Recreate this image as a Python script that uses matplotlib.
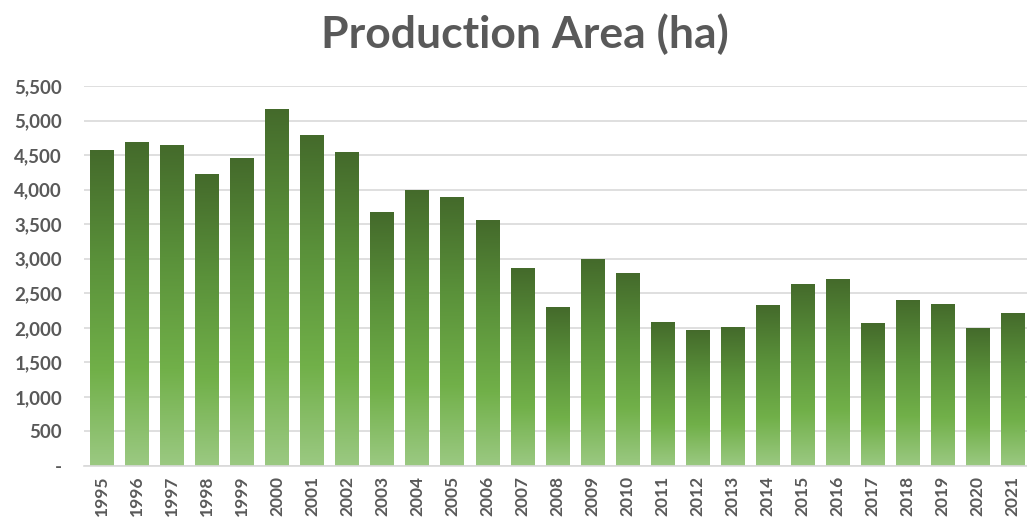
#!/usr/bin/env python3

import matplotlib
matplotlib.use("Agg")
import matplotlib.pyplot as plt
import numpy as np
from matplotlib.colors import LinearSegmentedColormap
from matplotlib.ticker import FuncFormatter

# ========== data ==========
years = [str(y) for y in range(1995, 2022)]
area_ha = [4570, 4685, 4650, 4225, 4455, 5170, 4795, 4540, 3670, 4000,
           3890, 3560, 2860, 2295, 2995, 2800, 2085, 1975, 2005, 2330,
           2640, 2700, 2065, 2405, 2345, 2000, 2215]
y_ticks = [0, 500, 1000, 1500, 2000, 2500, 3000, 3500, 4000, 4500, 5000, 5500]

TEXT_GREY = "#595959"
GRID_GREY = "#d9d9d9"

# bottom -> top of every bar
bar_cmap = LinearSegmentedColormap.from_list(
    "bar_green",
    [(0.0, "#9bc982"), (0.3, "#71b049"), (0.65, "#5a913a"), (1.0, "#446a2b")],
)

plt.rcParams['font.family'] = ['Lato', 'DejaVu Sans']

fig = plt.figure(figsize=(10.27, 5.21), dpi=100)
fig.set_facecolor('white')
ax = fig.add_axes([0.082, 0.1056, 0.921, 0.7294])
ax.set_facecolor('white')

x = np.arange(len(years))
bars = ax.bar(x, area_ha, width=0.66, color='none', edgecolor='none', zorder=2)

# vertical gradient inside each bar
grad = np.linspace(0, 1, 256).reshape(-1, 1)
for rect in bars:
    x0, w, h = rect.get_x(), rect.get_width(), rect.get_height()
    im = ax.imshow(grad, cmap=bar_cmap, origin='lower', aspect='auto',
                   extent=(x0, x0 + w, 0, h), zorder=2, interpolation='bilinear')
    im.set_clip_path(rect)

ax.set_xlim(-0.5, len(years) - 0.5)
ax.set_ylim(0, 5500)
ax.set_yticks(y_ticks)
ax.yaxis.set_major_formatter(FuncFormatter(lambda v, _: "-" if v == 0 else f"{int(v):,}"))
ax.set_xticks(x)
ax.set_xticklabels(years, rotation=90)

ax.grid(axis='y', color=GRID_GREY, linewidth=1.2, zorder=0)
ax.set_axisbelow(True)
for side in ['top', 'right', 'left']:
    ax.spines[side].set_visible(False)
ax.spines['bottom'].set_color(GRID_GREY)
ax.spines['bottom'].set_linewidth(1.2)

ax.tick_params(axis='y', length=0, pad=16, labelsize=13.5, labelcolor=TEXT_GREY)
ax.tick_params(axis='x', length=0, pad=7, labelsize=12.5, labelcolor=TEXT_GREY)
for lbl in ax.get_yticklabels() + ax.get_xticklabels():
    lbl.set_fontweight('bold')

fig.text(0.511, 0.935, "Production Area (ha)", ha='center', va='center',
         fontsize=32, fontweight='bold', color=TEXT_GREY)

fig.savefig("out.png", dpi=100, facecolor='white')
